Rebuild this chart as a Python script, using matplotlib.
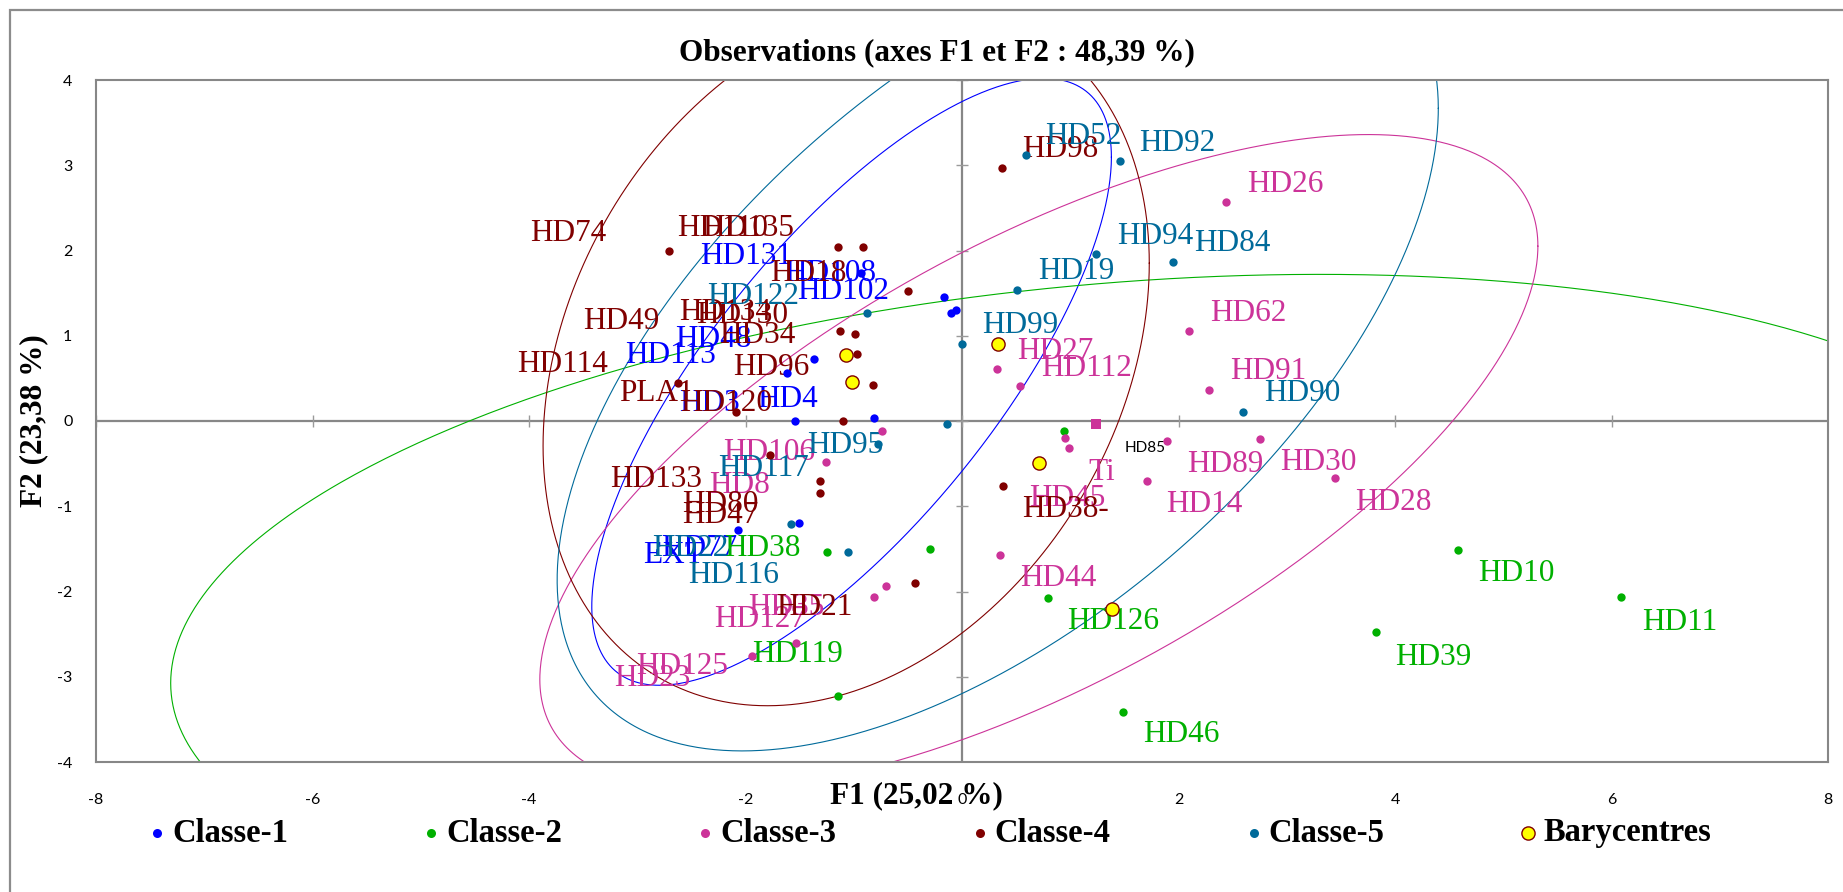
import numpy as np
import matplotlib
matplotlib.use("Agg")
import matplotlib.pyplot as plt
from matplotlib.patches import Rectangle

plt.rcParams['axes.unicode_minus'] = False

# ---------------- data ----------------
class_names = ['Classe-1', 'Classe-2', 'Classe-3', 'Classe-4', 'Classe-5']
class_colors = ['#0000FF', '#00B000', '#CC3399', '#800000', '#006A9A']

c1_x = [-0.93, -0.17, -0.10, -0.06, -1.37, -1.62, -1.54, -0.81, -1.51, -2.07]
c1_y = [1.74, 1.45, 1.27, 1.30, 0.73, 0.56, 0.00, 0.03, -1.20, -1.28]

c2_x = [0.94, -1.25, -0.30, -1.15, 0.79, 1.49, 3.82, 4.58, 6.09]
c2_y = [-0.12, -1.54, -1.50, -3.23, -2.08, -3.41, -2.47, -1.51, -2.06]

c3_x = [-0.74, -1.26, -0.70, -0.81, -1.53, -1.94, 0.32, 0.54, 0.95, 0.99,
        0.35, 1.71, 1.89, 2.75, 3.45, 2.10, 2.28, 2.44]
c3_y = [-0.12, -0.48, -1.94, -2.06, -2.60, -2.76, 0.61, 0.41, -0.20, -0.32,
        -1.57, -0.70, -0.23, -0.21, -0.67, 1.05, 0.36, 2.57]

c4_x = [-2.71, -1.15, -0.91, -0.50, -1.13, -0.99, -0.97, -2.62, -2.09, -1.10,
        -0.82, -1.77, -1.31, -1.31, -0.43, 0.37, 0.38]
c4_y = [2.00, 2.04, 2.04, 1.52, 1.06, 1.02, 0.79, 0.45, 0.11, 0.00,
        0.42, -0.40, -0.70, -0.85, -1.90, 2.97, -0.76]

c5_x = [-0.88, 0.00, -0.14, -0.78, -1.58, -1.05, 0.59, 1.46, 1.24, 1.95, 0.51, 2.60]
c5_y = [1.27, 0.90, -0.04, -0.27, -1.21, -1.54, 3.12, 3.05, 1.96, 1.87, 1.54, 0.11]

sup_x = [1.24]   # supplementary observation (square)
sup_y = [-0.04]

bary_x = [-1.02, 1.39, 0.71, -1.07, 0.33]
bary_y = [0.46, -2.21, -0.49, 0.78, 0.90]

# confidence ellipses (spread along F1, spread along F2, correlation)
ell_sx = [2.40, 8.70, 4.61, 2.80, 4.07]
ell_sy = [3.56, 3.93, 3.85, 4.12, 4.77]
ell_r = [0.74, 0.22, 0.66, 0.26, 0.58]

# observation labels: (text, class index, x, y)
lab_text = ['HD131', 'HD108', 'HD102', 'HD48', 'HD113', 'HD3', 'HD4', 'HD77', 'EXT',
            'HD38', 'HD119', 'HD126', 'HD46', 'HD39', 'HD10', 'HD11',
            'HD106', 'HD8', 'HD35', 'HD127', 'HD125', 'HD23', 'HD26', 'HD62', 'HD27',
            'HD112', 'HD91', 'Ti', 'HD89', 'HD30', 'HD45', 'HD14', 'HD28', 'HD44',
            'HD74', 'HD110', 'HD135', 'HD18', 'HD49', 'HD134', 'HD130', 'HD34', 'HD114',
            'HD96', 'PLA1', 'HD120', 'HD133', 'HD80', 'HD47', 'HD21', 'HD98', 'HD38-',
            'HD122', 'HD95', 'HD117', 'HD116', 'HD22', 'HD52', 'HD92', 'HD94', 'HD84',
            'HD19', 'HD99', 'HD90']
lab_class = [0, 0, 0, 0, 0, 0, 0, 0, 0,
             1, 1, 1, 1, 1, 1, 1,
             2, 2, 2, 2, 2, 2, 2, 2, 2,
             2, 2, 2, 2, 2, 2, 2, 2, 2,
             3, 3, 3, 3, 3, 3, 3, 3, 3,
             3, 3, 3, 3, 3, 3, 3, 3, 3,
             4, 4, 4, 4, 4, 4, 4, 4, 4,
             4, 4, 4]
lab_x = [-2.42, -1.64, -1.52, -2.65, -3.11, -2.61, -1.89, -2.78, -2.95,
         -2.20, -1.94, 0.97, 1.67, 4.00, 4.77, 6.28,
         -2.21, -2.34, -1.98, -2.29, -3.01, -3.21, 2.63, 2.29, 0.51,
         0.73, 2.48, 1.17, 2.08, 2.94, 0.62, 1.89, 3.63, 0.54,
         -3.99, -2.63, -2.40, -1.77, -3.50, -2.61, -2.46, -2.24, -4.11,
         -2.11, -3.17, -2.60, -3.25, -2.59, -2.59, -1.72, 0.56, 0.56,
         -2.35, -1.43, -2.25, -2.53, -2.86, 0.77, 1.64, 1.43, 2.14,
         0.70, 0.19, 2.79]
lab_y = [1.84, 1.64, 1.43, 0.87, 0.68, 0.12, 0.16, -1.58, -1.66,
         -1.58, -2.83, -2.44, -3.77, -2.86, -1.88, -2.45,
         -0.46, -0.84, -2.27, -2.42, -2.97, -3.11, 2.69, 1.17, 0.73,
         0.53, 0.49, -0.69, -0.60, -0.58, -1.00, -1.07, -1.04, -1.94,
         2.11, 2.17, 2.17, 1.64, 1.08, 1.18, 1.15, 0.92, 0.57,
         0.54, 0.23, 0.12, -0.77, -1.07, -1.20, -2.27, 3.10, -1.13,
         1.37, -0.37, -0.65, -1.90, -1.58, 3.25, 3.17, 2.08, 1.99,
         1.66, 1.03, 0.23]

note_text = 'HD85'
note_x, note_y = 1.50, -0.36

x_ticks = [-8, -6, -4, -2, 0, 2, 4, 6, 8]
y_ticks = [-4, -3, -2, -1, 0, 1, 2, 3, 4]

title = 'Observations (axes F1 et F2 : 48,39 %)'
xlabel = 'F1 (25,02 %)'
ylabel = 'F2 (23,38 %)'

# ---------------- figure ----------------
W, H, DPI = 1843, 892, 100
fig = plt.figure(figsize=(W / DPI, H / DPI), dpi=DPI)
fig.patch.set_facecolor('white')

SERIF = 'Liberation Serif'
SANS = 'Lato'
GRAY = '#878787'

# chart area border (cropped Excel chart frame)
fig.patches.append(Rectangle((10 / W, -0.05), 1.1, 1 - 10 / H + 0.05,
                             transform=fig.transFigure, fill=False,
                             edgecolor='#8c8c8c', lw=1.6, zorder=0))

ax = fig.add_axes([96 / W, 1 - 762 / H, 1732 / W, 682 / H])
ax.set_xlim(-8, 8)
ax.set_ylim(-4, 4)
for s in ax.spines.values():
    s.set_color(GRAY)
    s.set_linewidth(1.5)

ax.set_xticks(x_ticks)
ax.set_xticklabels([str(t) for t in x_ticks])
ax.set_yticks(y_ticks)
ax.set_yticklabels([str(t) for t in y_ticks])
ax.tick_params(axis='x', length=0, pad=22, labelsize=11.5)
ax.tick_params(axis='y', length=0, pad=17, labelsize=11.5)
for t in ax.get_xticklabels() + ax.get_yticklabels():
    t.set_fontfamily(SANS)

# central axes with cross ticks
ax.axhline(0, color=GRAY, lw=1.6, zorder=1)
ax.axvline(0, color=GRAY, lw=1.6, zorder=1)
ax.plot(x_ticks, [0] * len(x_ticks), ls='none', marker='|', ms=8.5, mew=1.0,
        color='#9a9a9a', zorder=1)
ax.plot([0] * len(y_ticks), y_ticks, ls='none', marker='_', ms=8.5, mew=1.0,
        color='#9a9a9a', zorder=1)

# ellipses
t = np.linspace(0, 2 * np.pi, 721)
for k in range(5):
    ex = bary_x[k] + ell_sx[k] * np.cos(t)
    ey = bary_y[k] + ell_sy[k] * (ell_r[k] * np.cos(t) + np.sqrt(1 - ell_r[k] ** 2) * np.sin(t))
    ax.plot(ex, ey, color=class_colors[k], lw=0.8, zorder=2)

# points
pts = [(c1_x, c1_y), (c2_x, c2_y), (c3_x, c3_y), (c4_x, c4_y), (c5_x, c5_y)]
for k, (px, py) in enumerate(pts):
    ax.plot(px, py, ls='none', marker='o', ms=6.0, mew=0, color=class_colors[k], zorder=4)
ax.plot(sup_x, sup_y, ls='none', marker='s', ms=6.5, mew=0, color=class_colors[2], zorder=4)
ax.plot(bary_x, bary_y, ls='none', marker='o', ms=9.5, mfc='#FFFF00', mec='#800000',
        mew=1.0, zorder=5)

# labels
for s, k, lx, ly in zip(lab_text, lab_class, lab_x, lab_y):
    ax.text(lx, ly, s, color=class_colors[k], fontsize=22.5, family=SERIF,
            ha='left', va='baseline', zorder=3)
ax.text(note_x, note_y, note_text, color='black', fontsize=11, family=SANS,
        ha='left', va='baseline', zorder=3)

# titles
fig.text(937 / W, 1 - 53 / H, title, ha='center', va='center', fontsize=22.5,
         family=SERIF, fontweight='bold')
ax.set_xlabel(xlabel, fontsize=22.5, family=SERIF, fontweight='bold')
ax.xaxis.set_label_coords((916 - 96) / 1732, (762 - 796) / 682)
ax.xaxis.label.set_va('center')
ax.set_ylabel(ylabel, fontsize=22.5, family=SERIF, fontweight='bold')
ax.yaxis.set_label_coords((34 - 96) / 1732, (762 - 421) / 682)
ax.yaxis.label.set_va('center')

# legend (custom row)
lax = fig.add_axes([0, 0, 1, 1])
lax.set_xlim(0, W)
lax.set_ylim(H, 0)
lax.axis('off')
leg_x0, leg_dx, leg_y = 157, 274.2, 833
for k in range(5):
    lx = leg_x0 + k * leg_dx
    lax.plot([lx], [leg_y], ls='none', marker='o', ms=6.5, mew=0, color=class_colors[k])
    lax.text(lx + 15, leg_y, class_names[k], fontsize=23.5, family=SERIF,
             fontweight='bold', ha='left', va='center')
lx = leg_x0 + 5 * leg_dx
lax.plot([lx], [leg_y], ls='none', marker='o', ms=9.5, mfc='#FFFF00', mec='#800000', mew=1.0)
lax.text(lx + 15, leg_y, 'Barycentres', fontsize=23.5, family=SERIF,
         fontweight='bold', ha='left', va='center')

fig.savefig('out.png', dpi=DPI)
